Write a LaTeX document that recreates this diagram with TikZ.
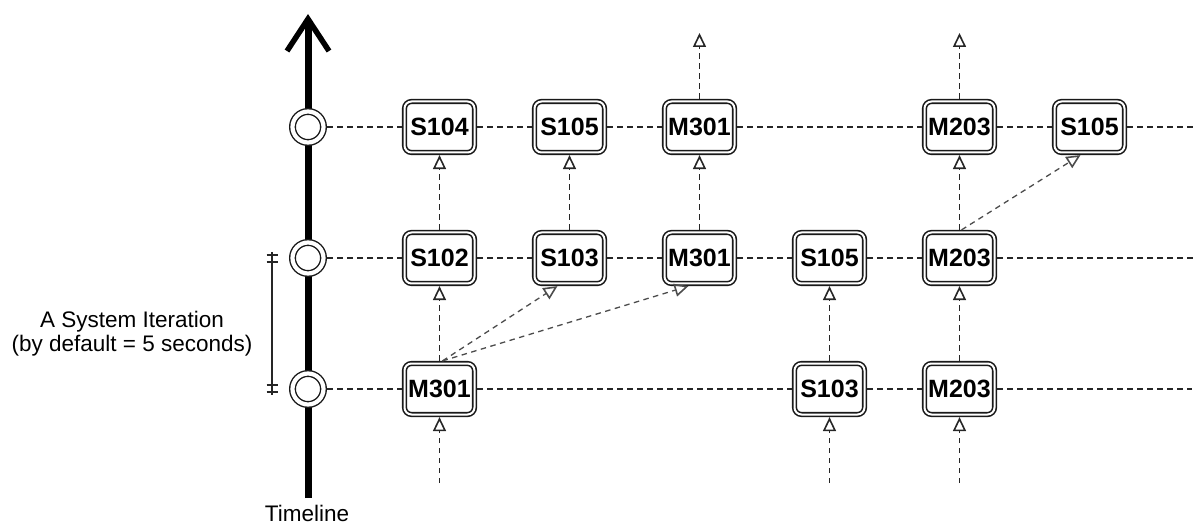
\documentclass[tikz,border=0pt]{standalone}
\usepackage{fontspec}
\setmainfont{Liberation Sans}
\usetikzlibrary{arrows.meta}
\begin{document}
\begin{tikzpicture}[x=1pt,y=-1pt,
  box/.style={draw=black!90, double=white, double distance=2pt, line width=1.6pt,
    rounded corners=7pt, fill=white, minimum width=70pt, minimum height=51pt,
    inner sep=0pt, outer sep=2.6pt, font=\fontsize{25}{25}\selectfont\bfseries},
  ring/.style={circle, draw=black!90, double=white, double distance=4.2pt, line width=1.4pt,
    fill=white, minimum size=31pt, inner sep=0pt, outer sep=3.5pt},
  dl/.style={dash pattern=on 5.5pt off 4.5pt, line width=1.3pt, draw=black!85},
  dg/.style={dl, draw=black!70},
  ar/.style={-{Triangle[open, length=14pt, width=13pt, line width=1.6pt]}},
  lbl/.style={font=\fontsize{22.5}{24}\selectfont, align=center, inner sep=0pt}]
\useasboundingbox (0,0) rectangle (1196,526);

% timeline
\coordinate (tlb) at (308,498);
\coordinate (tlt) at (308,14);
\draw[line width=7pt, -{Straight Barb[length=32pt, width=42pt, line width=5.5pt]}] (tlb) -- (tlt);

% rings
\node[ring] (c1) at (308,127) {};
\node[ring] (c2) at (308,258) {};
\node[ring] (c3) at (308,389) {};

% boxes
\node[box] (t1) at (439.5,127) {S104};
\node[box] (t2) at (569.5,127) {S105};
\node[box] (t3) at (699.5,127) {M301};
\node[box] (t4) at (959.5,127) {M203};
\node[box] (t5) at (1089.5,127) {S105};
\node[box] (m1) at (439.5,258) {S102};
\node[box] (m2) at (569.5,258) {S103};
\node[box] (m3) at (699.5,258) {M301};
\node[box] (m4) at (829.5,258) {S105};
\node[box] (m5) at (959.5,258) {M203};
\node[box] (b1) at (439.5,389) {M301};
\node[box] (b2) at (829.5,389) {S103};
\node[box] (b3) at (959.5,389) {M203};

% free ends
\coordinate (te) at (1196,127);
\coordinate (me) at (1196,258);
\coordinate (be) at (1192,389);
\coordinate (u1) at (699.5,33);
\coordinate (u2) at (959.5,33);
\coordinate (d1) at (439.5,483);
\coordinate (d2) at (829.5,483);
\coordinate (d3) at (959.5,483);

% horizontal dashed lines
\draw[dl] (c1) -- (t1) -- (t2) -- (t3) -- (t4) -- (t5) -- (te);
\draw[dl] (c2) -- (m1) -- (m2) -- (m3) -- (m4) -- (m5) -- (me);
\draw[dl] (c3) -- (b1) -- (b2) -- (b3) -- (be);

% vertical arrows
\draw[dl, ar] (d1) -- (b1);
\draw[dl, ar] (d2) -- (b2);
\draw[dl, ar] (d3) -- (b3);
\draw[dl, ar] (b1) -- (m1);
\draw[dl, ar] (m1) -- (t1);
\draw[dl, ar] (m2) -- (t2);
\draw[dl, ar] (m3) -- (t3);
\draw[dl, ar] (t3) -- (u1);
\draw[dl, ar] (b2) -- (m4);
\draw[dl, ar] (b3) -- (m5);
\draw[dl, ar] (m5) -- (t4);
\draw[dl, ar] (t4) -- (u2);

% diagonal arrows
\draw[dg, ar] ([xshift=3pt]b1.north) -- ([xshift=-12pt]m2.south);
\draw[dg, ar] ([xshift=3pt]b1.north) -- ([xshift=-11pt]m3.south);
\draw[dg, ar] ([xshift=2pt]m5.north) -- ([xshift=-9pt]t5.south);

% iteration bracket
\coordinate (brt) at (272,252);
\coordinate (brb) at (272,395);
\draw[line width=1.3pt, draw=black!85] (brt) -- (brb);
\draw[line width=1.2pt, draw=black!85] (266.5,255) -- (277.5,255) (266.5,262) -- (277.5,262)
  (266.5,385) -- (277.5,385) (266.5,392) -- (277.5,392);

% labels
\node[lbl] (it) at (132,334) {A System Iteration\\(by default = 5 seconds)};
\node[lbl, anchor=base] (tl) at (307,521) {Timeline};
\end{tikzpicture}
\end{document}
